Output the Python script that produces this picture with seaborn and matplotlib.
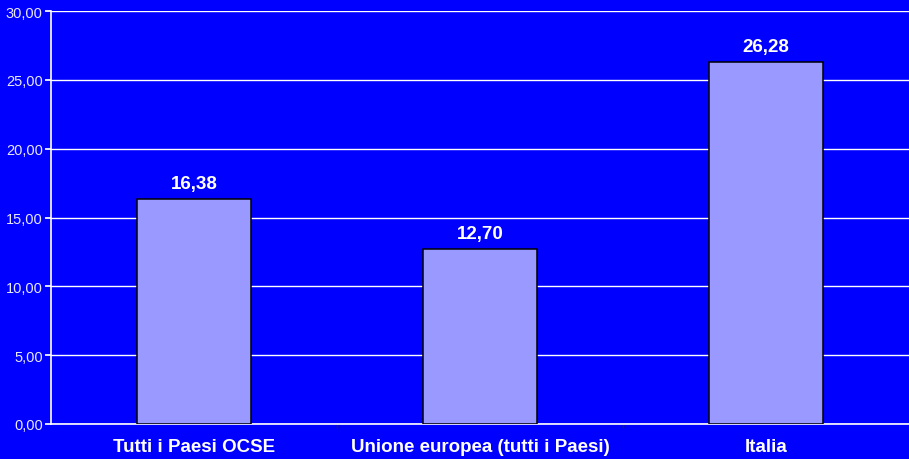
import matplotlib
matplotlib.use('Agg')
import matplotlib.pyplot as plt
import seaborn as sns
import pandas as pd
from matplotlib.ticker import FuncFormatter, FixedLocator

# Data
categories = ['Tutti i Paesi OCSE', 'Unione europea (tutti i Paesi)', 'Italia']
values = [16.38, 12.70, 26.28]
y_ticks = [0, 5, 10, 15, 20, 25, 30]

df = pd.DataFrame({'categoria': categories, 'valore': values})

sns.set_theme(style='white')
plt.rcParams['font.family'] = ['Liberation Sans', 'DejaVu Sans']

blue = '#0000FF'
fig = plt.figure(figsize=(9.09, 4.6), dpi=100, facecolor=blue)
ax = fig.add_axes([51 / 909, 35 / 460, 1 - 51 / 909, 413 / 460])
ax.set_facecolor(blue)

sns.barplot(data=df, x='categoria', y='valore', ax=ax, color='#9999FF',
            saturation=1, width=0.4, edgecolor='black', linewidth=1.1, zorder=3)

ax.set_xlim(-0.5, 2.5)
ax.set_ylim(0, 30)
ax.set_yticks(y_ticks)
ax.yaxis.set_major_formatter(FuncFormatter(lambda v, p: f'{v:.2f}'.replace('.', ',')))
ax.grid(axis='y', color='white', linewidth=1, zorder=0)
ax.set_axisbelow(True)

# value labels above the bars
for i, v in enumerate(values):
    ax.text(i, v + 0.5, f'{v:.2f}'.replace('.', ','), ha='center', va='bottom',
            color='white', fontsize=13.5, fontweight='bold')

ax.set_xlabel('')
ax.set_ylabel('')
ax.tick_params(axis='x', which='major', length=0, labelsize=13.5, labelcolor='white', pad=10)
for lbl in ax.get_xticklabels():
    lbl.set_fontweight('bold')
ax.xaxis.set_minor_locator(FixedLocator([0.5, 1.5]))
ax.tick_params(axis='x', which='minor', length=3, color='#202040', direction='out', bottom=True)
ax.tick_params(axis='y', length=4, color='white', labelsize=10.5, labelcolor='#E8E8FF', left=True, direction='out', pad=2)

for side in ['top', 'right']:
    ax.spines[side].set_visible(False)
for side in ['left', 'bottom']:
    ax.spines[side].set_color('white')
    ax.spines[side].set_linewidth(1.2)

fig.savefig('out.png', dpi=100, facecolor=blue)
